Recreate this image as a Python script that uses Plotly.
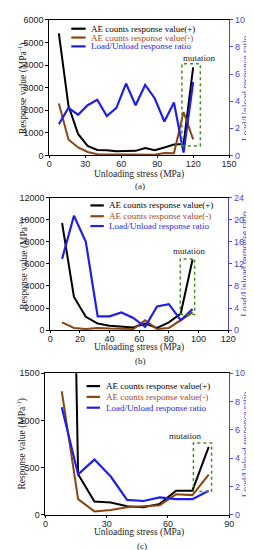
import plotly.graph_objects as go

# ---------------- data ----------------
stress_a = [8, 16, 24, 32, 40, 48, 56, 64, 72, 80, 88, 96, 104, 112, 120]
pos_a = [5400, 2200, 950, 420, 240, 230, 180, 175, 200, 320, 230, 350, 480, 500, 3900]
neg_a = [2300, 700, 350, 150, 50, 50, 30, 30, 30, 30, 30, 100, 90, 1920, 710]
ratio_a = [2.3, 3.5, 3.0, 3.7, 4.1, 2.9, 3.5, 5.3, 3.7, 5.2, 4.2, 2.5, 3.9, 0.2, 5.4]

stress_b = [8, 16, 24, 32, 40, 48, 56, 64, 72, 80, 88, 96]
pos_b = [9700, 3000, 1200, 600, 400, 300, 240, 600, 200, 700, 1500, 6400]
neg_b = [700, 200, 100, 200, 150, 150, 100, 900, 100, 200, 900, 1600]
ratio_b = [12.9, 20.7, 16.0, 2.5, 2.5, 3.2, 2.2, 0.6, 4.3, 4.7, 1.8, 3.8]

stress_c = [8, 16, 24, 32, 40, 48, 56, 64, 72, 80]
pos_c = [10000, 430, 140, 130, 90, 80, 115, 255, 255, 720]
neg_c = [1310, 165, 35, 50, 80, 90, 100, 218, 208, 426]
ratio_c = [7.6, 2.85, 3.9, 2.7, 1.05, 0.97, 1.22, 1.1, 1.1, 1.7]

series_names = ["AE counts response value(+)", "AE counts response value(-)", "Load/Unload response ratio"]
panel_labels = ["(a)", "(b)", "(c)"]
x_title = "Unloading stress (MPa)"
yl_title = "Response value (MPa<sup>-1</sup>)"
yr_title = "Load/Unload response ratio"

# mutation boxes [x0, x1, y0, y1] and label position
mut_a = [110.6, 126, 420, 4060, 125, 4300]
mut_b = [87.7, 97.4, 1420, 6450, 93.5, 7150]
mut_c = [72.5, 81.4, 246, 762, 68.2, 830]

# ---------------- style ----------------
W, H = 254, 550
BLACK = "#000000"
BROWN = "#8B4513"
BLUE = "#1f1fe6"
AXBLUE = "#4646d2"
GREEN = "#3f8f1f"
SERIF = "Liberation Serif"
SANS = "Liberation Sans"

def px_x(x):
    return x / W

def px_y(y):
    return 1 - y / H

panels = [
    dict(st=stress_a, p=pos_a, n=neg_a, r=ratio_a, mut=mut_a,
         xd=[40, 228], yd=[7, 145], xr=[0, 150], xdt=30, yr=[0, 6000], ydt=1000,
         rr=[0, 10], rdt=2, leg=(63, 78, 82, [16, 25, 34]), lab=(135, 176),
         xt=(134, 164), ylt=(12, 76), yrt=(245, 76)),
    dict(st=stress_b, p=pos_b, n=neg_b, r=ratio_b, mut=mut_b,
         xd=[41, 227], yd=[188, 323], xr=[0, 120], xdt=20, yr=[0, 12000], ydt=2000,
         rr=[0, 24], rdt=4, leg=(83, 97, 100, [196, 207, 217]), lab=(135, 354),
         xt=(134, 341), ylt=(13, 255), yrt=(245, 255)),
    dict(st=stress_c, p=pos_c, n=neg_c, r=ratio_c, mut=mut_c,
         xd=[36, 228], yd=[367, 511], xr=[0, 90], xdt=30, yr=[0, 1500], ydt=500,
         rr=[0, 10], rdt=2, leg=(79, 93, 97, [380, 391, 402]), lab=(137, 543),
         xt=(134, 529), ylt=(10, 439), yrt=(246, 439)),
]

fig = go.Figure()
shapes = []
annos = []
layout = {}

for i, P in enumerate(panels):
    xa = "x" if i == 0 else f"x{i+1}"
    yl = 2 * i + 1
    yr_ = 2 * i + 2
    yla = "y" if yl == 1 else f"y{yl}"
    yra = f"y{yr_}"

    fig.add_trace(go.Scatter(x=P["st"], y=P["p"], mode="lines", line=dict(color=BLACK, width=2),
                             xaxis=xa, yaxis=yla, showlegend=False, name=series_names[0]))
    fig.add_trace(go.Scatter(x=P["st"], y=P["n"], mode="lines", line=dict(color=BROWN, width=2),
                             xaxis=xa, yaxis=yla, showlegend=False, name=series_names[1]))
    fig.add_trace(go.Scatter(x=P["st"], y=P["r"], mode="lines", line=dict(color=BLUE, width=2.2),
                             xaxis=xa, yaxis=yra, showlegend=False, name=series_names[2]))

    xkey = "xaxis" if i == 0 else f"xaxis{i+1}"
    ylkey = "yaxis" if yl == 1 else f"yaxis{yl}"
    yrkey = f"yaxis{yr_}"
    layout[xkey] = dict(
        domain=[px_x(P["xd"][0]), px_x(P["xd"][1])], anchor=yla, range=P["xr"], autorange=False,
        dtick=P["xdt"], tick0=0, tickmode="linear", showline=True, linecolor=BLACK, linewidth=1,
        mirror=True, ticks="outside", ticklen=2, tickcolor=BLACK, showgrid=False, zeroline=False,
        ticklabelstandoff=-2,
        tickfont=dict(family=SANS, size=9, color="#222"),
    )
    layout[ylkey] = dict(
        domain=[px_y(P["yd"][1]), px_y(P["yd"][0])], anchor=xa, range=P["yr"], autorange=False,
        dtick=P["ydt"], tick0=0, tickmode="linear", tickformat="d", showline=True, linecolor=BLACK,
        linewidth=1, ticks="outside", ticklen=3, tickcolor=BLACK, showgrid=False, zeroline=False,
        tickfont=dict(family=SANS, size=9, color="#222"),
    )
    layout[yrkey] = dict(
        domain=[px_y(P["yd"][1]), px_y(P["yd"][0])], anchor=xa, overlaying=yla, side="right",
        range=P["rr"], autorange=False, dtick=P["rdt"], tick0=0, tickmode="linear",
        showline=True, linecolor=AXBLUE, linewidth=1.2,
        ticks="outside", ticklen=3, tickcolor=AXBLUE, showgrid=False, zeroline=False,
        tickfont=dict(family=SANS, size=9, color=AXBLUE),
    )

    # axis titles
    annos.append(dict(text=x_title, xref="paper", yref="paper", x=px_x(P["xt"][0]), y=px_y(P["xt"][1]),
                      showarrow=False, xanchor="center", yanchor="middle",
                      font=dict(family=SERIF, size=9.5, color="#222")))
    annos.append(dict(text=yl_title, xref="paper", yref="paper", x=px_x(P["ylt"][0]), y=px_y(P["ylt"][1]),
                      showarrow=False, xanchor="center", yanchor="middle", textangle=-90,
                      font=dict(family=SERIF, size=9.5, color="#222")))
    annos.append(dict(text=yr_title, xref="paper", yref="paper", x=px_x(P["yrt"][0]), y=px_y(P["yrt"][1]),
                      showarrow=False, xanchor="center", yanchor="middle", textangle=-90,
                      font=dict(family=SERIF, size=9.5, color=AXBLUE)))

    # mutation box + label
    m = P["mut"]
    shapes.append(dict(type="rect", xref=xa, yref=yla, x0=m[0], x1=m[1], y0=m[2], y1=m[3],
                       line=dict(color=GREEN, width=1.5, dash="dot"), fillcolor="rgba(0,0,0,0)"))
    annos.append(dict(text="mutation", xref=xa, yref=yla, x=m[4], y=m[5], showarrow=False,
                      xanchor="center", yanchor="middle", font=dict(family=SERIF, size=9, color="#222")))

    # manual legend
    lx0, lx1, tx, rows = P["leg"]
    for col, txtcol, name, yy in zip([BLACK, BROWN, BLUE], [BLACK, "#a2461f", BLUE], series_names, rows):
        shapes.append(dict(type="line", xref="paper", yref="paper", x0=px_x(lx0), x1=px_x(lx1),
                           y0=px_y(yy), y1=px_y(yy), line=dict(color=col, width=2.2)))
        annos.append(dict(text=name, xref="paper", yref="paper", x=px_x(tx), y=px_y(yy), showarrow=False,
                          xanchor="left", yanchor="middle", font=dict(family=SERIF, size=9, color=txtcol)))

    # panel label
    annos.append(dict(text=panel_labels[i], xref="paper", yref="paper", x=px_x(P["lab"][0]),
                      y=px_y(P["lab"][1]), showarrow=False, xanchor="center", yanchor="middle",
                      font=dict(family=SERIF, size=9, color="#222")))

fig.update_layout(
    width=W, height=H, margin=dict(l=0, r=0, t=0, b=0),
    paper_bgcolor="white", plot_bgcolor="white", showlegend=False,
    shapes=shapes, annotations=annos, **layout,
)

fig.write_html("out.html", config={"displayModeBar": False})
